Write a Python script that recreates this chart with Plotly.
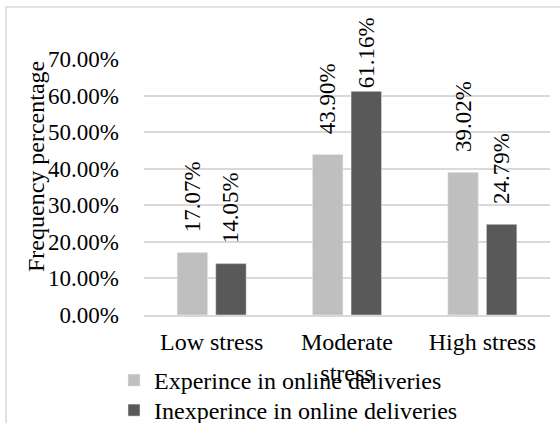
import plotly.graph_objects as go

categories = ["Low stress", "Moderate<br>stress", "High stress"]
series_names = ["Experince in online deliveries", "Inexperince in online deliveries"]
experienced = [17.07, 43.90, 39.02]
inexperienced = [14.05, 61.16, 24.79]
y_ticks = [0, 10, 20, 30, 40, 50, 60, 70]

FONT = "Liberation Serif, Times New Roman, serif"
W, H = 560, 423
L, R, T, B = 144, 10, 59, 108
pw, ph = W - L - R, H - T - B

def labels(vals):
    pad = "\u00a0" * 3
    return [(pad if v < 55 else "") + f"{v:.2f}%" for v in vals]

fig = go.Figure()
for i, (name, vals, col) in enumerate([(series_names[0], experienced, "#bfbfbf"),
                                       (series_names[1], inexperienced, "#595959")]):
    fig.add_trace(go.Bar(
        x=categories, y=vals, name=name, marker_color=col,
        legend="legend" if i == 0 else "legend2",
        text=labels(vals), textposition="outside", textangle=-90,
        constraintext="none", cliponaxis=False,
        textfont=dict(family=FONT, size=23, color="#000000"),
    ))

def px_x(p):
    return (p - L) / pw

def px_y(p):
    return (H - B - p) / ph

fig.add_shape(type="rect", xref="paper", yref="paper",
              x0=px_x(6), x1=px_x(570), y0=px_y(7), y1=px_y(440),
              line=dict(color="#d9d9d9", width=1.5), layer="below")

fig.add_annotation(text="Frequency percentage", xref="paper", yref="paper",
                   x=px_x(36), y=px_y(167), xanchor="center", yanchor="middle",
                   textangle=-90, showarrow=False,
                   font=dict(family=FONT, size=24, color="#000000"))

legend_style = dict(xref="container", yref="container", xanchor="left", yanchor="top",
                    orientation="v", bgcolor="rgba(0,0,0,0)",
                    font=dict(family=FONT, size=24, color="#000000"))

fig.update_layout(
    width=W, height=H, margin=dict(l=L, r=R, t=T, b=B, autoexpand=False),
    paper_bgcolor="white", plot_bgcolor="white",
    barmode="group", bargap=0.43, bargroupgap=0.21,
    font=dict(family=FONT, size=23, color="#000000"),
    showlegend=True,
    legend=dict(x=114 / W, y=1 - 358 / H, **legend_style),
    legend2=dict(x=114 / W, y=1 - 388 / H, **legend_style),
    xaxis=dict(showgrid=False, showline=True, linecolor="#d9d9d9", linewidth=1.5,
               automargin=False,
               ticks="", ticklabelstandoff=4, tickfont=dict(family=FONT, size=24)),
    yaxis=dict(range=[0, 70], tickvals=y_ticks, automargin=False,
               ticktext=[f"{v:.2f}%" for v in y_ticks],
               showgrid=True, gridcolor="#d9d9d9", gridwidth=1.5,
               zeroline=False, showline=False, ticks="", ticklabelstandoff=24,
               tickfont=dict(family=FONT, size=23)),
)

fig.write_html("out.html", config={"displayModeBar": False},
               post_script="document.body.style.margin='0';")
